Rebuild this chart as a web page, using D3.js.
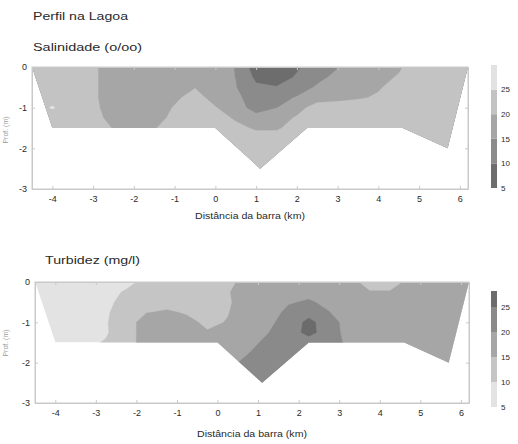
<!DOCTYPE html>
<html><head><meta charset="utf-8">
<script src="https://cdn.jsdelivr.net/npm/d3@7"></script>
<style>
html,body{margin:0;padding:0;background:#fff;}
svg{display:block;font-family:"Liberation Sans",Arial,sans-serif;}
</style></head>
<body>
<svg id="c" width="518" height="444"></svg>
<script>
// ---------------- DATA ----------------
const chartTitle = "Perfil na Lagoa";
const xLabel = "Distância da barra (km)";
const yLabel = "Prof. (m)";
const xTicks = [-4,-3,-2,-1,0,1,2,3,4,5,6];
const yTicks = [0,-1,-2,-3];
const levelBreaks = [5,10,15,20,25];

// lagoon cross-section outline (distance km, depth m)
const profileDist  = [-4.5, -4.0, 0.0, 1.1, 2.25, 4.6, 5.7, 6.2];
const profileDepth = [ 0.0, -1.5, -1.5, -2.5, -1.5, -1.5, -2.0, 0.0];

// grid depths (rows)
const gridDepth = [0,-0.25,-0.5,-0.75,-1.0,-1.25,-1.5,-1.75,-2.0,-2.25,-2.5];

// Salinity (o/oo) grid
const salTitle = "Salinidade (o/oo)";
const salDist = [-4.5,-4,-3.5,-3,-2.5,-2,-1.5,-1,-0.5,0,0.5,1,1.5,2,2.5,3,3.5,4,4.5,5,5.5,6,6.5];
const salinity = [
 [23,23,22.5,21,17,17,17,17.5,18.5,17,14.8,7.2,7,9.3,13.1,14.8,16.5,18,19.5,22,22.5,23,23],
 [23,23,22.5,21,17,16.5,16.5,17.5,18.8,17.2,14.9,9.0,7.5,10.6,14,16,17.5,19,20.3,22.5,22.5,23,23],
 [23,23,22.5,21,17,16.5,16.5,17.5,19.8,17.3,15.2,10.8,10.3,13,15.5,17,18.5,19.6,21.5,22.5,22.5,23,23],
 [23,23.2,22.5,21,17,16.5,17,19,21.9,18.1,15.5,13.9,13.5,15.3,17.5,18.5,19.5,20.5,22,22.5,22.5,23,23],
 [23,25.4,22.5,21,18,16.5,17.5,20.4,22,20.3,17,13.2,14.9,18,22.5,22.5,22.5,22.8,23,23,23,23,23],
 [23,23,22.5,21.5,18.5,17,18.5,21,22.5,21.5,19.5,16.5,17.5,20.6,22.5,23,23,23,23,23,23,23,23],
 [23,23,22.5,22,19.8,18,19.8,21.5,22.5,22,21,19.5,19.5,21.5,22.5,23,23,23,23,23,23,23,23],
 [23,23,22.5,22,22,22,22,22,22.5,22.5,22,21.5,21.5,22,22.5,23,23,23,23,23,23,23,23],
 [23,23,22.5,22.5,22.5,22.5,22.5,22.5,22.5,22.5,22.5,22.5,22.5,22.5,22.5,23,23,23,23,23,23,23,23],
 [23,23,22.5,22.5,22.5,22.5,22.5,22.5,22.5,22.5,22.5,22.5,22.5,22.5,22.5,23,23,23,23,23,23,23,23],
 [23,23,22.5,22.5,22.5,22.5,22.5,22.5,22.5,22.5,22.5,22.5,22.5,22.5,22.5,23,23,23,23,23,23,23,23]
];
const salScaleMax = 30;
const salColors = ["#6d6d6d","#8b8b8b","#a6a6a6","#c3c3c3","#e2e2e2"];

// Turbidity (mg/l) grid
const turbTitle = "Turbidez (mg/l)";
const turbDist = [-4.75,-4.25,-3.75,-3.25,-2.75,-2.25,-1.75,-1.25,-0.75,-0.25,0.25,0.75,1.25,1.75,2.25,2.75,3.25,3.75,4.25,4.75,5.25,5.75,6.25];
const turbidity = [
 [7,7,7,7.5,8,9.5,10.5,11.5,12,13,14.3,16,17,17.5,17.5,17.5,16,13.8,13.8,15.7,16.5,17,17],
 [7,7,7.5,8,9.4,10.2,11.5,12,12.5,13.5,14.8,16.3,17.5,18.5,19,18.5,17,15.2,15.2,16.5,17,17,17],
 [7,7.5,8,8.5,9.3,11,12.5,13.5,13.5,13.8,14.6,16.5,18,19.7,20.4,19.2,17.5,17.5,17.5,17.5,17.5,17.5,17.5],
 [7.5,7.5,8,8.5,9.5,12,14.8,15.5,14.6,13.8,14.8,17,18.5,20.8,23,20.1,18,17.5,17.5,17.5,17.5,17.5,17.5],
 [7.5,8,8.5,9,9.7,12.5,17.5,17,16,14.2,15.2,17.5,19.2,21.5,26.5,22,18,17.5,17.5,17.5,17.5,17.5,17.5],
 [7.5,8,8.5,9,9.6,12.5,17.5,17.5,17,15.3,16.5,18.5,19.9,22.5,26.5,22.5,18,17.5,17.5,17.5,17.5,17.5,17.5],
 [7.5,8,8.5,9.2,10.3,12.5,17.5,17.5,17.5,17,17.5,19,20.8,22.5,22.5,22,19,17.5,17.5,17.5,17.5,17.5,17.5],
 [7.5,8,8.5,9.2,10.3,12.5,17.5,17.5,17.5,17,18.5,19.8,22,22.5,22.5,22,19,17.5,17.5,17.5,17.5,17.5,17.5],
 [7.5,8,8.5,9.2,10.3,12.5,17.5,17.5,17.5,17,19,21,22.5,22.5,22.5,22,19,17.5,17.5,17.5,17.5,17.5,17.5],
 [7.5,8,8.5,9.2,10.3,12.5,17.5,17.5,17.5,17,20.5,22.5,22.5,22.5,22.5,22,19,17.5,17.5,17.5,17.5,17.5,17.5],
 [7.5,8,8.5,9.2,10.3,12.5,17.5,17.5,17.5,17,20.5,22.5,22.5,22.5,22.5,22,19,17.5,17.5,17.5,17.5,17.5,17.5]
];
const turbScaleMax = 28.2;
const turbColors = ["#e3e3e3","#c5c5c5","#a6a6a6","#8a8a8a","#6b6b6b"];

// ---------------- DRAW ----------------
const svg = d3.select("#c");
const TXT = "#2a2a2a", AX = "#c9c9c9";

svg.append("text").attr("x",33).attr("y",20).attr("font-size",11.5).attr("fill",TXT)
  .attr("textLength",95).attr("lengthAdjust","spacingAndGlyphs").text(chartTitle);

function drawPanel(cfg){
  const g = svg.append("g");
  const x = d3.scaleLinear().domain([-4.5,6.2]).range([cfg.px0,cfg.px1]);
  const y = d3.scaleLinear().domain([0,-3]).range([cfg.py0,cfg.py1]);

  g.append("text").attr("x",cfg.tx).attr("y",cfg.ty).attr("font-size",11.5).attr("fill",TXT)
    .attr("textLength",cfg.tl).attr("lengthAdjust","spacingAndGlyphs").text(cfg.title);

  // frame
  g.append("rect").attr("x",cfg.px0).attr("y",cfg.py0).attr("width",cfg.px1-cfg.px0).attr("height",cfg.py1-cfg.py0)
    .attr("fill","none").attr("stroke",AX).attr("stroke-width",1);

  // clip
  const pts = profileDist.map((d,i)=>[x(d), y(profileDepth[i])]);
  const cid = "clip"+cfg.id;
  g.append("clipPath").attr("id",cid).append("path").attr("d", d3.line()(pts)+"Z");

  const nx = cfg.dist.length, ny = gridDepth.length;
  const dxs = cfg.dist[1]-cfg.dist[0], dys = gridDepth[1]-gridDepth[0];
  const values = cfg.grid.flat();
  const contours = d3.contours().size([nx,ny]).thresholds(levelBreaks.slice(1))(values);
  const proj = d3.geoTransform({point:function(gx,gy){
    this.stream.point(x(cfg.dist[0]+(gx-0.5)*dxs), y(gridDepth[0]+(gy-0.5)*dys));
  }});
  const path = d3.geoPath(proj);
  const cg = g.append("g").attr("clip-path","url(#"+cid+")");
  cg.append("path").attr("d", d3.line()(pts)+"Z").attr("fill", cfg.colors[0]);
  contours.forEach((c,i)=>{
    cg.append("path").attr("d", path(c)).attr("fill", cfg.colors[i+1]).attr("stroke",cfg.colors[i+1]).attr("stroke-width",0.3);
  });

  // axes
  const fmt = d => String(d);
  const ax = g.append("g").attr("transform",`translate(0,${cfg.py1})`)
    .call(d3.axisBottom(x).tickValues(xTicks).tickSizeInner(-3).tickSizeOuter(0).tickPadding(7).tickFormat(fmt));
  const ay = g.append("g").attr("transform",`translate(${cfg.px0},0)`)
    .call(d3.axisLeft(y).tickValues(yTicks).tickSizeInner(-3).tickSizeOuter(0).tickPadding(5).tickFormat(fmt));
  const at = g.append("g").attr("transform",`translate(0,${cfg.py0})`)
    .call(d3.axisTop(x).tickValues(xTicks).tickSizeInner(-3).tickSizeOuter(0).tickFormat(""));
  const ar = g.append("g").attr("transform",`translate(${cfg.px1},0)`)
    .call(d3.axisRight(y).tickValues(yTicks).tickSizeInner(-3).tickSizeOuter(0).tickFormat(""));
  [ax,ay,at,ar].forEach(a=>{
    a.select(".domain").attr("stroke",AX);
    a.selectAll(".tick line").attr("stroke",AX);
    a.selectAll("text").attr("fill",TXT).attr("font-size",9).attr("font-family","Liberation Sans, Arial, sans-serif");
  });

  g.append("text").attr("x",(cfg.px0+cfg.px1)/2).attr("y",cfg.xly).attr("text-anchor","middle")
    .attr("font-size",9).attr("fill",TXT).attr("textLength",110).attr("lengthAdjust","spacingAndGlyphs").text(xLabel);
  g.append("text").attr("transform",`translate(8,${cfg.yly}) rotate(-90)`).attr("text-anchor","middle")
    .attr("font-size",7).attr("fill","#9a9a9a").text(yLabel);

  // colour bar
  const cs = d3.scaleLinear().domain([levelBreaks[0], cfg.cmax]).range([cfg.cy1, cfg.cy0]);
  const edges = levelBreaks.concat([cfg.cmax]);
  for(let i=0;i<levelBreaks.length;i++){
    g.append("rect").attr("x",cfg.cx).attr("width",6)
      .attr("y",cs(edges[i+1])).attr("height",cs(edges[i])-cs(edges[i+1]))
      .attr("fill",cfg.colors[i]);
  }
  levelBreaks.forEach(v=>{
    g.append("text").attr("x",cfg.cx+10).attr("y",cs(v)).attr("dy","0.35em")
      .attr("font-size",8).attr("fill",TXT).text(v);
  });
}

drawPanel({id:"s", title:salTitle, tx:33, ty:51, tl:109, px0:32, px1:468, py0:67, py1:189,
  dist:salDist, grid:salinity, colors:salColors, cmax:salScaleMax,
  cx:491, cy0:65, cy1:188, xly:219, yly:130});
drawPanel({id:"t", title:turbTitle, tx:45, ty:264, tl:95, px0:35, px1:469, py0:282, py1:403,
  dist:turbDist, grid:turbidity, colors:turbColors, cmax:turbScaleMax,
  cx:491, cy0:291, cy1:407, xly:437, yly:343});
</script>
</body></html>
